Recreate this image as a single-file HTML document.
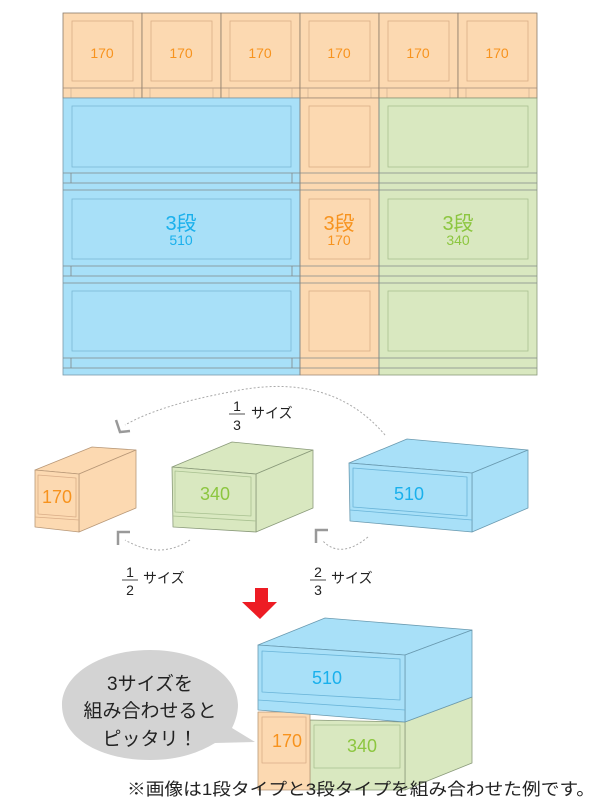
<!DOCTYPE html>
<html><head><meta charset="utf-8"><style>
body{margin:0;background:#fff}
svg{display:block;font-family:"Liberation Sans","Noto Sans CJK JP",sans-serif}
</style></head><body>
<svg width="600" height="800" viewBox="0 0 600 800" xmlns="http://www.w3.org/2000/svg">
<defs>
<g id="o1">
<rect x="0" y="0" width="79" height="85" fill="#fcd9b1" stroke="#8a7a6a" stroke-width="0.8"/>
<rect x="9" y="8" width="61" height="60" fill="none" stroke="#d9ad88" stroke-width="0.8"/>
<line x1="0" y1="75" x2="79" y2="75" stroke="#a08a78" stroke-width="0.8"/>
<line x1="8" y1="75" x2="8" y2="85" stroke="#c9a98a" stroke-width="0.6"/>
<line x1="71" y1="75" x2="71" y2="85" stroke="#c9a98a" stroke-width="0.6"/>
</g>
</defs>
<g font-size="14" fill="#f7931e" text-anchor="middle">
<g transform="translate(63,13)"><use href="#o1"/><text x="39" y="45">170</text></g>
<g transform="translate(142,13)"><use href="#o1"/><text x="39" y="45">170</text></g>
<g transform="translate(221,13)"><use href="#o1"/><text x="39" y="45">170</text></g>
<g transform="translate(300,13)"><use href="#o1"/><text x="39" y="45">170</text></g>
<g transform="translate(379,13)"><use href="#o1"/><text x="39" y="45">170</text></g>
<g transform="translate(458,13)"><use href="#o1"/><text x="39" y="45">170</text></g>
</g>

<g stroke-width="0.8">
<rect x="63" y="98" width="237" height="277" fill="#a8e0f8" stroke="#7a9aaa"/>
<rect x="300" y="98" width="79" height="277" fill="#fcd9b1" stroke="#a08a78"/>
<rect x="379" y="98" width="158" height="277" fill="#d9e8c0" stroke="#8a9a7a"/>
</g>
<g fill="none" stroke-width="0.8">
<g stroke="#7ab8d4"><rect x="72" y="106" width="219" height="61"/><rect x="72" y="199" width="219" height="60"/><rect x="72" y="291" width="219" height="60"/></g>
<g stroke="#d9ad88"><rect x="309" y="106" width="61" height="61"/><rect x="309" y="199" width="61" height="60"/><rect x="309" y="291" width="61" height="60"/></g>
<g stroke="#a8c090"><rect x="388" y="106" width="140" height="61"/><rect x="388" y="199" width="140" height="60"/><rect x="388" y="291" width="140" height="60"/></g>
<g stroke="#808888">
<line x1="63" y1="173" x2="537" y2="173"/><line x1="63" y1="183" x2="537" y2="183"/><line x1="63" y1="190" x2="537" y2="190"/>
<line x1="63" y1="266" x2="537" y2="266"/><line x1="63" y1="276" x2="537" y2="276"/><line x1="63" y1="283" x2="537" y2="283"/>
<line x1="63" y1="358" x2="537" y2="358"/><line x1="63" y1="368" x2="537" y2="368"/>
<line x1="71" y1="173" x2="71" y2="183"/><line x1="292" y1="173" x2="292" y2="183"/>
<line x1="71" y1="266" x2="71" y2="276"/><line x1="292" y1="266" x2="292" y2="276"/>
<line x1="71" y1="358" x2="71" y2="368"/><line x1="292" y1="358" x2="292" y2="368"/>
<line x1="300" y1="98" x2="300" y2="375"/><line x1="379" y1="98" x2="379" y2="375"/>
</g>
</g>
<text x="181" y="230" font-size="20" fill="#1ab0ec" text-anchor="middle">3段</text>
<text x="181" y="245" font-size="14" fill="#1ab0ec" text-anchor="middle">510</text>
<text x="339" y="230" font-size="20" fill="#f7931e" text-anchor="middle">3段</text>
<text x="339" y="245" font-size="14" fill="#f7931e" text-anchor="middle">170</text>
<text x="458" y="230" font-size="20" fill="#8cc63f" text-anchor="middle">3段</text>
<text x="458" y="245" font-size="14" fill="#8cc63f" text-anchor="middle">340</text>

<g fill="none" stroke="#aaa" stroke-width="1" stroke-dasharray="2,2">
<path d="M385,435 Q330,370 230,392 Q160,405 125,425"/>
<path d="M190,540 Q160,560 125,540"/>
<path d="M368,537 Q340,560 322,540"/>
</g>
<g fill="none" stroke="#999" stroke-width="2.5">
<path d="M116,420 L120,432 L130,431"/>
<path d="M130,532 L118,532 L118,545"/>
<path d="M328,530 L316,530 L316,543"/>
</g>
<g font-size="14" fill="#222">
<text x="237" y="411" text-anchor="middle">1</text><line x1="229" y1="414" x2="245" y2="414" stroke="#222" stroke-width="0.8"/><text x="237" y="430" text-anchor="middle">3</text><text x="251" y="418">サイズ</text>
<text x="130" y="577" text-anchor="middle">1</text><line x1="122" y1="580" x2="138" y2="580" stroke="#222" stroke-width="0.8"/><text x="130" y="595" text-anchor="middle">2</text><text x="143" y="583">サイズ</text>
<text x="318" y="577" text-anchor="middle">2</text><line x1="310" y1="580" x2="326" y2="580" stroke="#222" stroke-width="0.8"/><text x="318" y="595" text-anchor="middle">3</text><text x="331" y="583">サイズ</text>
</g>

<g stroke-width="0.8" stroke-linejoin="round">
<polygon points="35,470 92,447 136,450 79,474" fill="#fcd9b1" stroke="#b89878"/>
<polygon points="79,474 136,450 136,508 79,532" fill="#fcd9b1" stroke="#b89878"/>
<polygon points="35,470 79,474 79,532 35,527" fill="#fcd9b1" stroke="#b89878"/>
<polygon points="38,475 76,478 76,517 38,514" fill="none" stroke="#d9ad88"/>
<line x1="35" y1="517" x2="79" y2="520" stroke="#d9ad88"/>
<text x="57" y="503" font-size="18" fill="#f7931e" text-anchor="middle">170</text>
<polygon points="172,467 232,442 313,450 256,474" fill="#d9e8c0" stroke="#8a9a7a"/>
<polygon points="256,474 313,450 313,508 256,532" fill="#d9e8c0" stroke="#8a9a7a"/>
<polygon points="172,467 256,474 256,532 173,527" fill="#d9e8c0" stroke="#8a9a7a"/>
<polygon points="175,471 251,477 251,516 175,512" fill="none" stroke="#a8c090"/>
<line x1="173" y1="516" x2="256" y2="521" stroke="#a8c090"/>
<text x="215" y="500" font-size="18" fill="#8cc63f" text-anchor="middle">340</text>
<polygon points="349,463 407,439 528,450 472,473" fill="#a8e0f8" stroke="#6a9ab0"/>
<polygon points="472,473 528,450 528,508 472,532" fill="#a8e0f8" stroke="#6a9ab0"/>
<polygon points="349,463 472,473 472,532 350,521" fill="#a8e0f8" stroke="#6a9ab0"/>
<polygon points="353,468 467,477 467,516 353,507" fill="none" stroke="#6ab4d8"/>
<line x1="350" y1="510" x2="472" y2="520" stroke="#6ab4d8"/>
<text x="409" y="500" font-size="18" fill="#1ab0ec" text-anchor="middle">510</text>
</g>

<polygon points="255,588 268,588 268,602 277,602 260,619 242,602 255,602" fill="#ed1c24"/>

<g stroke-width="0.8" stroke-linejoin="round">
<polygon points="405,722 472,697 472,763 405,790" fill="#d9e8c0" stroke="#8a9a7a"/>
<polygon points="310,720 405,722 405,790 310,790" fill="#d9e8c0" stroke="#8a9a7a"/>
<polygon points="258,712 310,712 310,790 258,790" fill="#fcd9b1" stroke="#b89878"/>
<polygon points="262,717 306,717 306,763 262,763" fill="none" stroke="#d9ad88"/>
<polygon points="314,725 400,725 400,768 314,768" fill="none" stroke="#a8c090"/>
<polygon points="258,645 325,618 472,630 405,655" fill="#a8e0f8" stroke="#6a9ab0"/>
<polygon points="405,655 472,630 472,697 405,722" fill="#a8e0f8" stroke="#6a9ab0"/>
<polygon points="258,645 405,655 405,722 258,710" fill="#a8e0f8" stroke="#6a9ab0"/>
<polygon points="262,651 400,659 400,700 262,692" fill="none" stroke="#6ab4d8"/>
<line x1="258" y1="700" x2="405" y2="710" stroke="#6ab4d8"/>
</g>
<text x="327" y="684" font-size="18" fill="#1ab0ec" text-anchor="middle">510</text>
<text x="287" y="747" font-size="18" fill="#f7931e" text-anchor="middle">170</text>
<text x="362" y="752" font-size="18" fill="#8cc63f" text-anchor="middle">340</text>

<path d="M150,650 C100,650 62,675 62,705 C62,738 100,760 150,760 C180,760 200,752 215,743 L255,742 L232,728 C236,720 238,712 238,705 C238,675 200,650 150,650 Z" fill="#d3d3d3"/>
<g font-size="19" fill="#222" text-anchor="middle">
<text x="150" y="690">3サイズを</text>
<text x="150" y="717">組み合わせると</text>
<text x="150" y="745">ピッタリ！</text>
</g>
<text x="127" y="795" font-size="17" fill="#222" textLength="468" lengthAdjust="spacingAndGlyphs">※画像は1段タイプと3段タイプを組み合わせた例です。</text>
</svg>
</body></html>
